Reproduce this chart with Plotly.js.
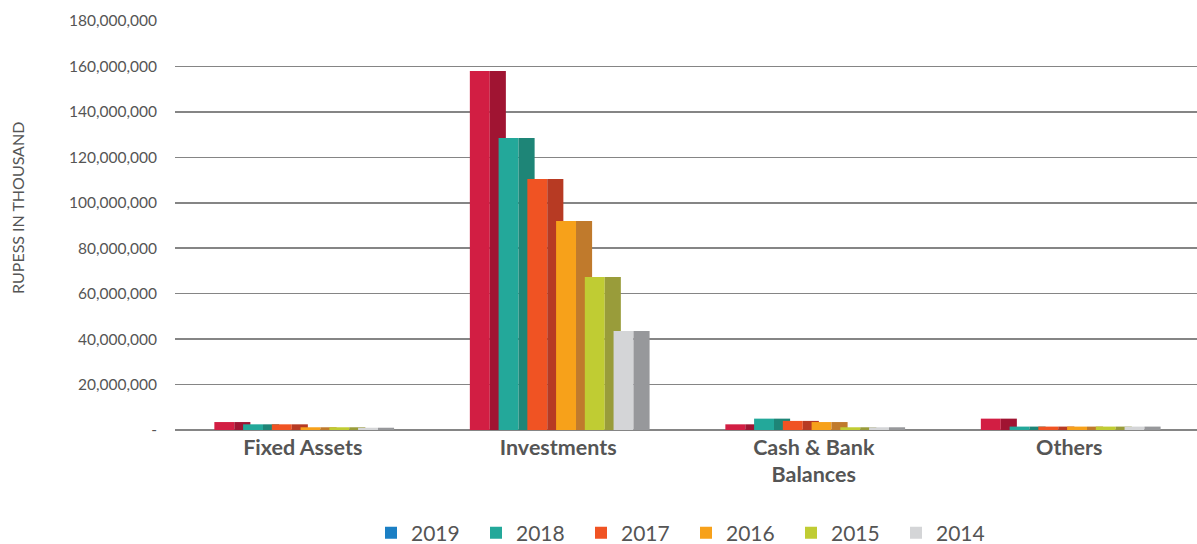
<!DOCTYPE html>
<html>
<head>
<meta charset="utf-8">
<script src="https://cdn.plot.ly/plotly-3.0.1.min.js"></script>
<style>html,body{margin:0;padding:0;background:#fff;}#chart{width:1197px;height:544px;}</style>
</head>
<body>
<div id="chart"></div>
<script>
const categories = ["Fixed Assets", "Investments", "Cash & Bank<br>Balances", "Others"];
const years = ["2019", "2018", "2017", "2016", "2015", "2014"];
const v2019 = [3500000, 158000000, 2500000, 5000000];
const v2018 = [2500000, 128500000, 5000000, 1500000];
const v2017 = [2500000, 110500000, 4000000, 1500000];
const v2016 = [1200000, 92000000, 3500000, 1500000];
const v2015 = [1200000, 67300000, 1200000, 1500000];
const v2014 = [1000000, 43600000, 1200000, 1500000];
const seriesValues = [v2019, v2018, v2017, v2016, v2015, v2014];
const frontColors = ["#d21e43", "#23a89a", "#f05323", "#f7a11a", "#c0cc33", "#d4d5d7"];
const sideColors = ["#a01432", "#1e8577", "#b73a23", "#c07a2c", "#999c3a", "#97989b"];
const legendColors = ["#1b7fc4", "#23a89a", "#f05323", "#f7a11a", "#c0cc33", "#d4d5d7"];
const tickVals = [0, 20000000, 40000000, 60000000, 80000000, 100000000, 120000000, 140000000, 160000000, 180000000];
const tickText = ["-", "20,000,000", "40,000,000", "60,000,000", "80,000,000", "100,000,000", "120,000,000", "140,000,000", "160,000,000", "180,000,000"];

const pitch = 0.1125, frontW = 0.078, sideW = 0.063, start = -0.346;
const traces = [];
seriesValues.forEach((vals, i) => {
  const off = start + i * pitch;
  traces.push({type: "bar", x: categories, y: vals, name: years[i], showlegend: false,
    offset: off, width: frontW, marker: {color: frontColors[i]}, hoverinfo: "y+name"});
  traces.push({type: "bar", x: categories, y: vals, name: years[i], showlegend: false,
    offset: off + frontW, width: sideW, marker: {color: sideColors[i]}, hoverinfo: "skip"});
});
years.forEach((yr, i) => {
  traces.push({type: "bar", x: categories, y: categories.map(() => null), name: yr,
    marker: {color: legendColors[i]}, showlegend: true, hoverinfo: "skip"});
});

const layout = {
  width: 1197, height: 544,
  margin: {l: 175, r: 0, t: 21, b: 114, autoexpand: false},
  paper_bgcolor: "#fff", plot_bgcolor: "#fff",
  barmode: "overlay",
  font: {family: "Lato, 'Open Sans', sans-serif", color: "#555"},
  xaxis: {
    type: "category", showgrid: false, showline: false, zeroline: false,
    tickfont: {size: 21.5, color: "#555", family: "Lato, sans-serif", weight: "bold"},
    ticks: "", ticklabelstandoff: 2, automargin: false
  },
  yaxis: {
    range: [0, 180000000], tickvals: tickVals, ticktext: tickText,
    showgrid: true, gridcolor: "#858585", gridwidth: 1.6,
    zeroline: true, zerolinecolor: "#858585", zerolinewidth: 1.6,
    ticks: "outside", ticklen: 14, tickcolor: "rgba(0,0,0,0)",
    tickfont: {size: 15.5, color: "#555"}, automargin: false
  },
  annotations: [{
    text: "RUPESS IN THOUSAND", textangle: -90, showarrow: false,
    xref: "paper", yref: "paper", x: -0.1536, y: 0.543, xanchor: "center", yanchor: "middle",
    font: {size: 16, color: "#555"}
  }],
  legend: {
    orientation: "h", x: 0.5, xanchor: "center", y: -0.252, yanchor: "middle",
    font: {size: 21, color: "#555"}, entrywidth: 60, entrywidthmode: "pixels",
    itemwidth: 30, traceorder: "normal"
  },
  showlegend: true
};
Plotly.newPlot("chart", traces, layout, {displayModeBar: false, staticPlot: true});
</script>
</body>
</html>
